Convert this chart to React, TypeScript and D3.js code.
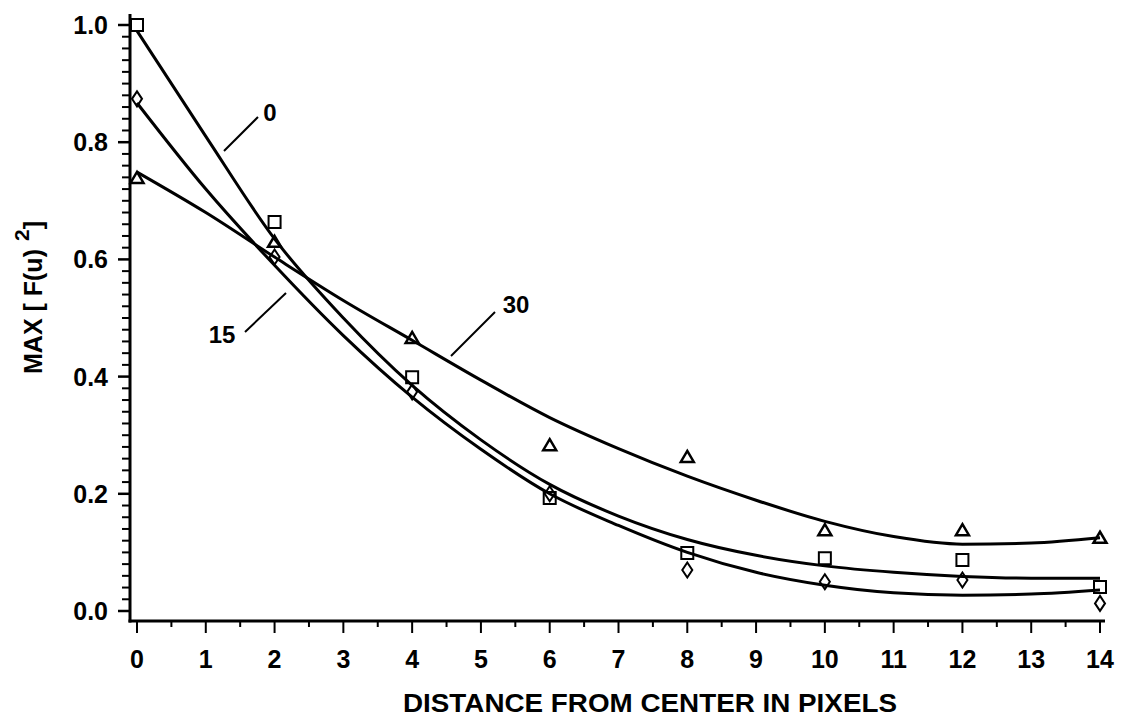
import React from "react";
import * as d3 from "d3";

const markerX = [0, 2, 4, 6, 8, 10, 12, 14];
const squares0 = [1.0, 0.664, 0.399, 0.193, 0.099, 0.090, 0.087, 0.041];
const diamonds15 = [0.874, 0.604, 0.374, 0.200, 0.070, 0.050, 0.053, 0.013];
const triangles30 = [0.739, 0.630, 0.466, 0.283, 0.263, 0.138, 0.138, 0.125];

const curveX = [0, 1, 2, 3, 4, 5, 6, 7, 8, 9, 10, 11, 12, 13, 14];
const fit0 = [0.99, 0.81, 0.635, 0.5, 0.385, 0.292, 0.216, 0.162, 0.122, 0.095, 0.077, 0.066, 0.059, 0.056, 0.056];
const fit15 = [0.867, 0.72, 0.59, 0.47, 0.365, 0.276, 0.2, 0.146, 0.1, 0.066, 0.044, 0.031, 0.027, 0.029, 0.036];
const fit30 = [0.749, 0.68, 0.604, 0.53, 0.462, 0.394, 0.33, 0.277, 0.23, 0.189, 0.153, 0.127, 0.114, 0.116, 0.125];

const xTickLabels = ["0", "1", "2", "3", "4", "5", "6", "7", "8", "9", "10", "11", "12", "13", "14"];
const yTickLabels = ["0.0", "0.2", "0.4", "0.6", "0.8", "1.0"];
const curveLabels = ["0", "15", "30"];

const FONT = "'Liberation Sans', Arial, Helvetica, sans-serif";

export default function App() {
  const x = d3.scaleLinear().domain([0, 14]).range([137, 1100]);
  const y = d3.scaleLinear().domain([0, 1]).range([611, 25]);
  const axisX = 130;
  const axisY = 621;

  const line = d3
    .line<number>()
    .x((_, i) => x(curveX[i]))
    .y((d) => y(d))
    .curve(d3.curveMonotoneX);

  const yMinor = d3.range(0, 51).map((i) => i * 0.02);
  const xMinor = d3.range(0, 29).map((i) => i * 0.5);

  const sq = 12;
  const squarePath = (cx: number, cy: number) =>
    `M${cx - sq / 2},${cy - sq / 2}h${sq}v${sq}h${-sq}Z`;
  const trianglePath = (cx: number, cy: number) =>
    `M${cx},${cy - 6}L${cx + 6.5},${cy + 5}L${cx - 6.5},${cy + 5}Z`;
  const diamondPath = (cx: number, cy: number) =>
    `M${cx},${cy - 7.5}L${cx + 5},${cy}L${cx},${cy + 7.5}L${cx - 5},${cy}Z`;

  return (
    <svg
      width={1123}
      height={721}
      style={{ position: "absolute", left: 0, top: 0, background: "#fff" }}
      fontFamily={FONT}
    >
      <rect x={0} y={0} width={1123} height={721} fill="#fff" />
      {/* axes */}
      <line x1={axisX} y1={14} x2={axisX} y2={axisY + 1.5} stroke="#000" strokeWidth={3} />
      <line x1={axisX - 1.5} y1={axisY} x2={1105} y2={axisY} stroke="#000" strokeWidth={3} />
      {yMinor.map((v, i) => (
        <line
          key={"ym" + i}
          x1={i % 10 === 0 ? axisX - 12 : axisX - 8}
          x2={axisX}
          y1={y(v)}
          y2={y(v)}
          stroke="#000"
          strokeWidth={i % 10 === 0 ? 2.5 : 2}
        />
      ))}
      {yTickLabels.map((t, i) => (
        <text
          key={"yl" + i}
          x={108}
          y={y(i * 0.2)}
          dy="0.36em"
          textAnchor="end"
          fontSize={25}
          fontWeight="bold"
        >
          {t}
        </text>
      ))}
      {xMinor.map((v, i) => (
        <line
          key={"xm" + i}
          x1={x(v)}
          x2={x(v)}
          y1={axisY}
          y2={i % 2 === 0 ? axisY + 12 : axisY + 6}
          stroke="#000"
          strokeWidth={2}
        />
      ))}
      {xTickLabels.map((t, i) => (
        <text
          key={"xl" + i}
          x={x(i)}
          y={668}
          textAnchor="middle"
          fontSize={25}
          fontWeight="bold"
        >
          {t}
        </text>
      ))}
      <text
        x={650}
        y={712}
        textAnchor="middle"
        fontSize={25}
        fontWeight="bold"
        textLength={494}
        lengthAdjust="spacingAndGlyphs"
      >
        DISTANCE FROM CENTER IN PIXELS
      </text>
      <text
        transform="translate(42,374) rotate(-90)"
        fontSize={25}
        fontWeight="bold"
      >
        MAX [ F(u)
        <tspan dx={8} dy={-13} fontSize={21}>2</tspan>
        <tspan dy={13}>]</tspan>
      </text>

      {/* fitted curves */}
      {[fit0, fit15, fit30].map((c, i) => (
        <path key={"c" + i} d={line(c) || ""} fill="none" stroke="#000" strokeWidth={3} />
      ))}

      {/* markers */}
      {squares0.map((v, i) => (
        <path key={"s" + i} d={squarePath(x(markerX[i]), y(v))} fill="none" stroke="#000" strokeWidth={2} />
      ))}
      {diamonds15.map((v, i) => (
        <path key={"d" + i} d={diamondPath(x(markerX[i]), y(v))} fill="none" stroke="#000" strokeWidth={2} />
      ))}
      {triangles30.map((v, i) => (
        <path key={"t" + i} d={trianglePath(x(markerX[i]), y(v))} fill="none" stroke="#000" strokeWidth={2.5} />
      ))}

      {/* curve labels */}
      <line x1={258} y1={117} x2={224} y2={151} stroke="#000" strokeWidth={2} />
      <text x={270} y={112} dy="0.36em" textAnchor="middle" fontSize={24} fontWeight="bold">
        {curveLabels[0]}
      </text>
      <line x1={245} y1={332} x2={286} y2={293} stroke="#000" strokeWidth={2} />
      <text x={222} y={334} dy="0.36em" textAnchor="middle" fontSize={24} fontWeight="bold">
        {curveLabels[1]}
      </text>
      <line x1={495} y1={312} x2={451} y2={356} stroke="#000" strokeWidth={2} />
      <text x={516} y={304} dy="0.36em" textAnchor="middle" fontSize={24} fontWeight="bold">
        {curveLabels[2]}
      </text>
    </svg>
  );
}
